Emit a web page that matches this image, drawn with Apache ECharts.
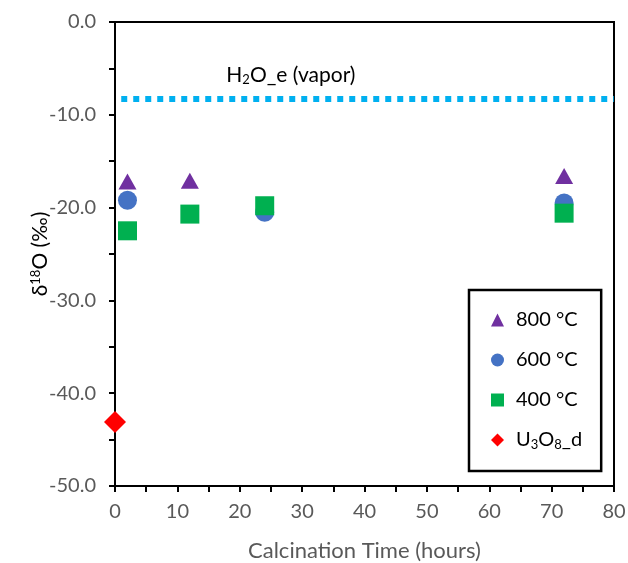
<!DOCTYPE html>
<html>
<head>
<meta charset="utf-8">
<script src="https://cdn.jsdelivr.net/npm/echarts@6/dist/echarts.min.js"></script>
<style>
  html, body { margin: 0; padding: 0; background: #fff; }
  #chart { width: 628px; height: 563px; }
</style>
</head>
<body>
<div id="chart"></div>
<script>
// data
var t800 = [[2, -17.2], [12, -17.1], [72, -16.6]];
var t600 = [[2, -19.2], [24, -20.5], [72, -19.5]];
var t400 = [[2, -22.5], [12, -20.7], [24, -19.8], [72, -20.6]];
var u3o8 = [[0, -43.1]];
var vaporLine = [[1, -8.3], [80, -8.3]];
var seriesNames = ['800 °C', '600 °C', '400 °C', 'U3O8_d'];

var font = 'Lato, "Open Sans", sans-serif';
var grey = '#595959';

var myChart = echarts.init(document.getElementById('chart'));

var option = {
  animation: false,
  textStyle: { fontFamily: font },
  grid: {
    left: 115, right: 14, top: 22, bottom: 77,
    outerBoundsMode: 'none',
    show: true, borderColor: '#000', borderWidth: 2
  },
  legend: {
    orient: 'vertical',
    left: 469, top: 290,
    data: seriesNames,
    borderColor: '#000', borderWidth: 2.5,
    padding: [20, 19, 20, 22],
    itemGap: 20,
    itemWidth: 13, itemHeight: 13,
    textStyle: {
      fontFamily: font, fontSize: 20, color: '#000',
      padding: [0, 0, 0, 7],
      rich: { sub: { fontSize: 13, verticalAlign: 'bottom', padding: [9, 0, 0, 0], color: '#000' } }
    },
    formatter: function (name) {
      if (name === 'U3O8_d') return 'U{sub|3}O{sub|8}_d';
      return name;
    }
  },
  xAxis: {
    type: 'value', min: 0, max: 80, interval: 5,
    name: 'Calcination Time (hours)',
    nameLocation: 'middle', nameGap: 54,
    nameMoveOverlap: false,
    nameTextStyle: { fontSize: 22, color: grey, fontFamily: font },
    axisLine: { onZero: false, lineStyle: { color: '#000', width: 2 } },
    axisTick: { show: true, length: 6, lineStyle: { color: '#000', width: 2 } },
    axisLabel: {
      fontSize: 20, color: grey, margin: 16,
      formatter: function (v) { return v % 10 === 0 ? String(v) : ''; }
    },
    splitLine: { show: false }
  },
  yAxis: {
    type: 'value', min: -50, max: 0, interval: 5,
    name: 'δ{sup|18}O (‰)',
    nameLocation: 'middle', nameGap: 64,
    nameMoveOverlap: false,
    nameTextStyle: {
      fontSize: 21, color: '#000', fontFamily: font,
      rich: { sup: { fontSize: 13, verticalAlign: 'top', padding: [0, 0, 9, 0], color: '#000' } }
    },
    axisLine: { onZero: false, lineStyle: { color: '#000', width: 2 } },
    axisTick: { show: true, length: 6, lineStyle: { color: '#000', width: 2 } },
    axisLabel: {
      fontSize: 20, color: grey, margin: 19,
      formatter: function (v) { return v % 10 === 0 ? v.toFixed(1) : ''; }
    },
    splitLine: { show: false }
  },
  series: [
    {
      name: 'H2O_e (vapor)',
      type: 'line',
      data: vaporLine,
      symbol: 'none',
      lineStyle: { color: '#00B0F0', width: 6, type: [6, 6], cap: 'butt' },
      silent: true,
      markPoint: {
        symbol: 'rect', symbolSize: 1,
        itemStyle: { color: 'transparent' },
        label: {
          show: true, position: 'top', distance: 12,
          formatter: 'H{sub|2}O_e (vapor)',
          fontSize: 21, color: '#000', fontFamily: font,
          rich: { sub: { fontSize: 13, verticalAlign: 'bottom', padding: [9, 0, 0, 0], color: '#000' } }
        },
        data: [{ coord: [28.2, -8.3] }]
      }
    },
    {
      name: '800 °C', type: 'scatter', data: t800,
      symbol: 'triangle', symbolSize: [18, 16],
      itemStyle: { color: '#7030A0', opacity: 1 }
    },
    {
      name: '600 °C', type: 'scatter', data: t600,
      symbol: 'circle', symbolSize: 19,
      itemStyle: { color: '#4472C4', opacity: 1 }
    },
    {
      name: '400 °C', type: 'scatter', data: t400,
      symbol: 'rect', symbolSize: 19,
      itemStyle: { color: '#00B050', opacity: 1 }
    },
    {
      name: 'U3O8_d', type: 'scatter', data: u3o8,
      symbol: 'diamond', symbolSize: 22,
      itemStyle: { color: '#FF0000', opacity: 1 }
    }
  ]
};

myChart.setOption(option);
</script>
</body>
</html>
